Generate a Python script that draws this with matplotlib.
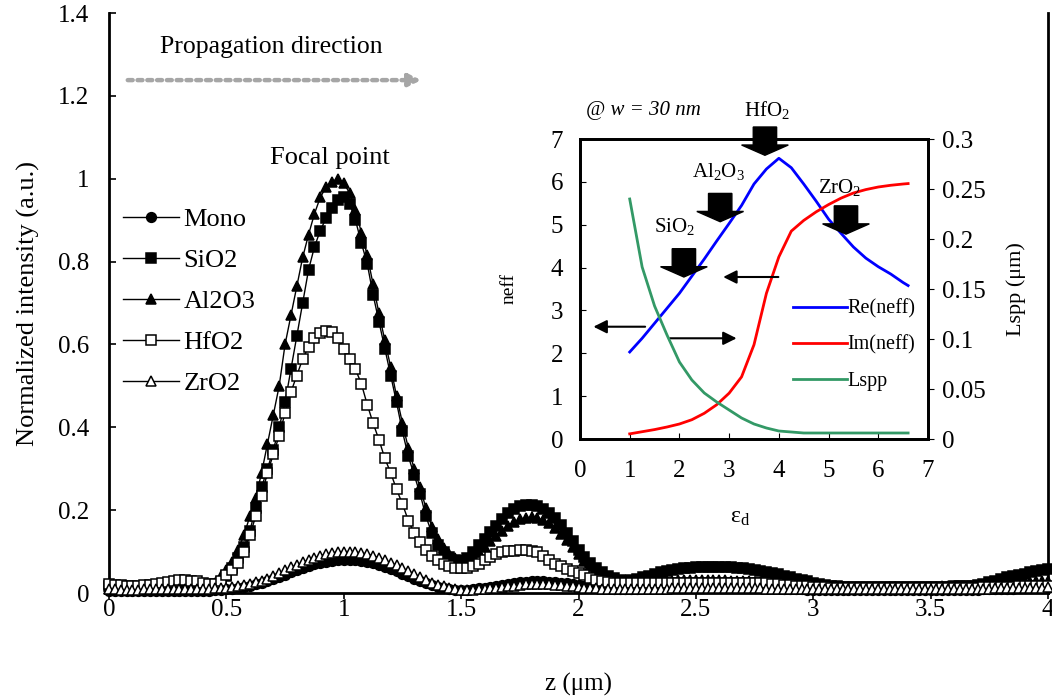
import numpy as np
import matplotlib
matplotlib.use('Agg')
import matplotlib.pyplot as plt

plt.rcParams['font.family'] = ['Liberation Serif', 'DejaVu Serif']
plt.rcParams['mathtext.fontset'] = 'custom'
plt.rcParams['mathtext.rm'] = 'Liberation Serif'
plt.rcParams['mathtext.it'] = 'Liberation Serif:italic'

# ---- main plot data: normalized intensity along z, sampled every 0.025 um ----
z_step = 0.025

mono = [0.006, 0.006, 0.006, 0.005, 0.005, 0.005, 0.005, 0.005, 0.005, 0.005,
        0.005, 0.005, 0.005, 0.005, 0.005, 0.005, 0.006, 0.006, 0.007, 0.008,
        0.009, 0.010, 0.012, 0.015, 0.018, 0.021, 0.025, 0.029, 0.034, 0.039,
        0.044, 0.050, 0.055, 0.060, 0.065, 0.069, 0.073, 0.076, 0.078, 0.079,
        0.080, 0.080, 0.079, 0.077, 0.075, 0.072, 0.068, 0.063, 0.058, 0.053,
        0.047, 0.041, 0.035, 0.029, 0.024, 0.019, 0.015, 0.012, 0.009, 0.008,
        0.007, 0.008, 0.009, 0.011, 0.013, 0.015, 0.018, 0.020, 0.022, 0.024,
        0.026, 0.027, 0.028, 0.028, 0.028, 0.027, 0.026, 0.025, 0.023, 0.021,
        0.019, 0.017, 0.015, 0.013, 0.012, 0.011, 0.010, 0.010, 0.010, 0.010,
        0.010, 0.011, 0.011, 0.012, 0.012, 0.013, 0.013, 0.014, 0.014, 0.014,
        0.015, 0.015, 0.015, 0.015, 0.015, 0.015, 0.014, 0.014, 0.014, 0.013,
        0.013, 0.012, 0.012, 0.011, 0.011, 0.010, 0.010, 0.009, 0.009, 0.008,
        0.008, 0.008, 0.007, 0.007, 0.007, 0.007, 0.007, 0.007, 0.007, 0.007,
        0.007, 0.007, 0.007, 0.007, 0.007, 0.007, 0.007, 0.007, 0.007, 0.007,
        0.007, 0.007, 0.007, 0.007, 0.008, 0.008, 0.008, 0.008, 0.008, 0.009,
        0.009, 0.009, 0.010, 0.010, 0.010, 0.011, 0.011, 0.011, 0.012, 0.012,
        0.012]

sio2 = [0.018, 0.016, 0.014, 0.013, 0.012, 0.012, 0.013, 0.014, 0.014, 0.013,
        0.013, 0.012, 0.012, 0.011, 0.011, 0.012, 0.013, 0.015, 0.018, 0.026,
        0.040, 0.060, 0.085, 0.110, 0.150, 0.205, 0.255, 0.300, 0.345, 0.400,
        0.460, 0.540, 0.620, 0.700, 0.780, 0.835, 0.875, 0.905, 0.930, 0.948,
        0.955, 0.940, 0.900, 0.845, 0.795, 0.720, 0.655, 0.590, 0.525, 0.460,
        0.390, 0.330, 0.285, 0.240, 0.185, 0.145, 0.115, 0.098, 0.088, 0.080,
        0.078, 0.085, 0.098, 0.115, 0.130, 0.148, 0.162, 0.178, 0.192, 0.203,
        0.210, 0.213, 0.213, 0.210, 0.203, 0.193, 0.180, 0.164, 0.145, 0.125,
        0.105, 0.088, 0.073, 0.060, 0.050, 0.042, 0.036, 0.032, 0.030, 0.031,
        0.034, 0.038, 0.042, 0.046, 0.050, 0.053, 0.056, 0.058, 0.060, 0.061,
        0.062, 0.063, 0.063, 0.063, 0.063, 0.062, 0.062, 0.061, 0.060, 0.058,
        0.056, 0.054, 0.051, 0.048, 0.045, 0.042, 0.038, 0.034, 0.031, 0.028,
        0.025, 0.022, 0.020, 0.018, 0.016, 0.015, 0.015, 0.014, 0.014, 0.014,
        0.014, 0.014, 0.014, 0.014, 0.015, 0.015, 0.015, 0.015, 0.015, 0.015,
        0.015, 0.015, 0.015, 0.015, 0.016, 0.016, 0.017, 0.018, 0.019, 0.022,
        0.026, 0.030, 0.034, 0.038, 0.041, 0.044, 0.047, 0.050, 0.053, 0.056,
        0.058]

al2o3 = [0.010, 0.010, 0.011, 0.012, 0.012, 0.013, 0.014, 0.014, 0.013, 0.012,
         0.012, 0.012, 0.012, 0.013, 0.014, 0.016, 0.018, 0.020, 0.025, 0.040,
         0.055, 0.075, 0.105, 0.140, 0.185, 0.230, 0.290, 0.360, 0.430, 0.500,
         0.600, 0.670, 0.740, 0.810, 0.865, 0.915, 0.955, 0.980, 0.993, 1.000,
         0.990, 0.965, 0.925, 0.870, 0.815, 0.745, 0.675, 0.610, 0.545, 0.475,
         0.410, 0.350, 0.300, 0.255, 0.205, 0.160, 0.130, 0.108, 0.093, 0.084,
         0.080, 0.082, 0.090, 0.100, 0.112, 0.125, 0.138, 0.150, 0.162, 0.172,
         0.178, 0.182, 0.183, 0.181, 0.176, 0.168, 0.157, 0.143, 0.127, 0.110,
         0.093, 0.078, 0.064, 0.052, 0.042, 0.035, 0.030, 0.027, 0.025, 0.024,
         0.024, 0.025, 0.026, 0.027, 0.028, 0.029, 0.030, 0.031, 0.031, 0.032,
         0.032, 0.032, 0.032, 0.032, 0.031, 0.031, 0.030, 0.030, 0.029, 0.028,
         0.027, 0.026, 0.025, 0.024, 0.023, 0.022, 0.021, 0.020, 0.019, 0.018,
         0.017, 0.016, 0.016, 0.015, 0.015, 0.014, 0.014, 0.014, 0.014, 0.014,
         0.014, 0.014, 0.014, 0.014, 0.014, 0.015, 0.015, 0.015, 0.015, 0.015,
         0.015, 0.015, 0.016, 0.016, 0.016, 0.017, 0.017, 0.018, 0.018, 0.019,
         0.020, 0.021, 0.022, 0.023, 0.024, 0.025, 0.026, 0.027, 0.028, 0.029,
         0.030]

hfo2 = [0.022, 0.020, 0.019, 0.018, 0.018, 0.018, 0.019, 0.020, 0.021, 0.023,
        0.026, 0.029, 0.031, 0.031, 0.030, 0.028, 0.025, 0.022, 0.022, 0.030,
        0.043, 0.055, 0.072, 0.100, 0.140, 0.185, 0.235, 0.290, 0.335, 0.380,
        0.435, 0.485, 0.525, 0.565, 0.595, 0.615, 0.628, 0.632, 0.630, 0.615,
        0.590, 0.566, 0.540, 0.505, 0.455, 0.410, 0.370, 0.325, 0.290, 0.250,
        0.215, 0.175, 0.145, 0.124, 0.104, 0.090, 0.079, 0.071, 0.065, 0.061,
        0.060, 0.061, 0.064, 0.069, 0.080, 0.088, 0.094, 0.099, 0.101, 0.102,
        0.103, 0.103, 0.102, 0.098, 0.090, 0.080, 0.070, 0.064, 0.058, 0.052,
        0.048, 0.043, 0.037, 0.032, 0.028, 0.026, 0.025, 0.024, 0.024, 0.024,
        0.024, 0.025, 0.025, 0.025, 0.025, 0.025, 0.025, 0.025, 0.025, 0.025,
        0.025, 0.025, 0.025, 0.025, 0.025, 0.025, 0.025, 0.025, 0.024, 0.024,
        0.024, 0.023, 0.023, 0.022, 0.021, 0.020, 0.019, 0.018, 0.017, 0.016,
        0.015, 0.014, 0.014, 0.013, 0.013, 0.012, 0.012, 0.012, 0.012, 0.012,
        0.012, 0.012, 0.012, 0.012, 0.012, 0.012, 0.012, 0.012, 0.012, 0.012,
        0.012, 0.012, 0.012, 0.012, 0.012, 0.013, 0.013, 0.013, 0.013, 0.014,
        0.014, 0.014, 0.015, 0.015, 0.015, 0.016, 0.016, 0.016, 0.017, 0.017,
        0.018]

zro2 = [0.010, 0.009, 0.008, 0.008, 0.008, 0.008, 0.009, 0.009, 0.009, 0.009,
        0.009, 0.009, 0.009, 0.009, 0.009, 0.009, 0.010, 0.010, 0.011, 0.011,
        0.012, 0.014, 0.016, 0.019, 0.022, 0.026, 0.030, 0.035, 0.042, 0.048,
        0.055, 0.062, 0.068, 0.074, 0.080, 0.085, 0.090, 0.094, 0.097, 0.099,
        0.100, 0.100, 0.099, 0.097, 0.094, 0.090, 0.085, 0.079, 0.073, 0.067,
        0.060, 0.053, 0.045, 0.038, 0.031, 0.025, 0.020, 0.016, 0.012, 0.010,
        0.008, 0.008, 0.008, 0.009, 0.010, 0.011, 0.013, 0.015, 0.017, 0.018,
        0.020, 0.021, 0.022, 0.022, 0.022, 0.022, 0.020, 0.019, 0.017, 0.016,
        0.014, 0.013, 0.012, 0.011, 0.010, 0.010, 0.009, 0.009, 0.009, 0.009,
        0.009, 0.009, 0.010, 0.010, 0.010, 0.010, 0.011, 0.011, 0.011, 0.011,
        0.011, 0.011, 0.011, 0.011, 0.011, 0.011, 0.011, 0.011, 0.011, 0.011,
        0.011, 0.011, 0.010, 0.010, 0.010, 0.010, 0.010, 0.009, 0.009, 0.009,
        0.009, 0.009, 0.009, 0.009, 0.009, 0.009, 0.009, 0.009, 0.009, 0.009,
        0.009, 0.009, 0.009, 0.009, 0.009, 0.009, 0.009, 0.009, 0.009, 0.009,
        0.009, 0.009, 0.009, 0.009, 0.009, 0.010, 0.010, 0.010, 0.010, 0.010,
        0.010, 0.011, 0.011, 0.011, 0.012, 0.012, 0.012, 0.013, 0.013, 0.013,
        0.014]

series_labels = ['Mono', 'SiO2', 'Al2O3', 'HfO2', 'ZrO2']

# ---- inset data: effective index and propagation length vs eps_d ----
eps_d = [1.0, 1.25, 1.5, 1.75, 2.0, 2.25, 2.5, 2.75, 3.0, 3.25, 3.5, 3.75,
         4.0, 4.25, 4.5, 4.75, 5.0, 5.25, 5.5, 5.75, 6.0, 6.25, 6.5, 6.6]
re_neff = [2.03, 2.35, 2.70, 3.05, 3.40, 3.80, 4.20, 4.62, 5.03, 5.45, 5.95, 6.30,
           6.55, 6.33, 5.95, 5.55, 5.13, 4.80, 4.48, 4.22, 4.02, 3.85, 3.65, 3.58]
im_neff = [0.12, 0.17, 0.22, 0.28, 0.35, 0.45, 0.60, 0.80, 1.07, 1.45, 2.20, 3.40,
           4.25, 4.85, 5.10, 5.30, 5.47, 5.62, 5.74, 5.82, 5.88, 5.92, 5.95, 5.96]
lspp = [0.240, 0.172, 0.133, 0.104, 0.077, 0.059, 0.046, 0.037, 0.029, 0.021,
        0.015, 0.011, 0.008, 0.007, 0.006, 0.006, 0.006, 0.006, 0.006, 0.006,
        0.006, 0.006, 0.006, 0.006]

oxide_labels = [r'HfO$_\mathregular{2}$', r'Al$_\mathregular{2}$O$_\mathregular{3}$',
                r'SiO$_\mathregular{2}$', r'ZrO$_\mathregular{2}$']
oxide_arrow_x = [3.72, 2.82, 2.09, 5.35]
oxide_arrow_tip = [6.62, 5.07, 3.78, 4.78]
oxide_text_xy = [(3.76, 7.67), (2.78, 6.23), (1.91, 4.95), (5.23, 5.88)]

z = np.arange(len(mono)) * z_step

fig = plt.figure(figsize=(10.52, 6.98), dpi=100)
ax = fig.add_axes([109 / 1052, 1 - 593 / 698, 939 / 1052, 580 / 698])

styles = [
    dict(marker='o', mfc='black', ms=7),
    dict(marker='s', mfc='black', ms=6.5),
    dict(marker='^', mfc='black', ms=7.5),
    dict(marker='s', mfc='white', ms=6.5),
    dict(marker='^', mfc='white', ms=6.5),
]
for i, (vals, lab, st) in enumerate(zip([mono, sio2, al2o3, hfo2, zro2], series_labels, styles)):
    ax.plot(z, vals, color='black', lw=1.0, mec='black', mew=1.1, label=lab,
            zorder=2 + i, clip_on=False, **st)

ax.set_xlim(0, 4)
ax.set_ylim(0, 1.4)
ax.set_xticks(np.arange(0, 4.01, 0.5))
ax.set_xticklabels(['0', '0.5', '1', '1.5', '2', '2.5', '3', '3.5', '4'])
ax.set_yticks(np.arange(0, 1.41, 0.2))
ax.set_yticklabels(['0', '0.2', '0.4', '0.6', '0.8', '1', '1.2', '1.4'])
ax.tick_params(axis='x', direction='out', length=4, width=1.2, pad=0, labelsize=18)
ax.tick_params(axis='y', direction='in', length=5, width=1.2, pad=14, labelsize=18)
ax.spines['top'].set_visible(False)
for s in ['left', 'bottom', 'right']:
    ax.spines[s].set_linewidth(2)
ax.set_xlabel('z (μm)', fontsize=18)
ax.xaxis.set_label_coords(0.5, -0.138)
ax.set_ylabel('Normalized intensity (a.u.)', fontsize=19)
ax.yaxis.set_label_coords(-0.073, 0.5)

ax.legend(loc='upper left', bbox_to_anchor=(0.015, 0.664), frameon=False,
          fontsize=19, handlelength=2.1, handletextpad=0.19, labelspacing=0.66,
          borderpad=0, borderaxespad=0)

ax.text(0.94, 1.05, 'Focal point', fontsize=19, ha='center', va='center')
ax.text(0.217, 1.318, 'Propagation direction', fontsize=18.5, ha='left', va='center')
ax.annotate('', xy=(1.33, 1.238), xytext=(0.08, 1.238),
            arrowprops=dict(arrowstyle='-|>', linestyle=(0, (1.1, 1.1)), lw=3.2,
                            color='#a6a6a6', mutation_scale=18, shrinkA=0, shrinkB=0))

# ---- inset ----
ax_in = fig.add_axes([580 / 1052, 1 - 439 / 698, 348 / 1052, 300 / 698])
l1, = ax_in.plot(eps_d, re_neff, color='#0000ff', lw=2, label='Re(neff)')
l2, = ax_in.plot(eps_d, im_neff, color='#ff0000', lw=2, label='Im(neff)')
ax_r = ax_in.twinx()
l3, = ax_r.plot(eps_d, lspp, color='#339966', lw=2, label='Lspp')

ax_in.set_xlim(0, 7)
ax_in.set_ylim(0, 7)
ax_r.set_ylim(0, 0.3)
ax_in.set_xticks(range(0, 8))
ax_in.set_yticks(range(0, 8))
ax_r.set_yticks([0, 0.05, 0.1, 0.15, 0.2, 0.25, 0.3])
ax_r.set_yticklabels(['0', '0.05', '0.1', '0.15', '0.2', '0.25', '0.3'])
ax_in.tick_params(axis='x', direction='in', length=4, pad=15, labelsize=18)
ax_in.tick_params(axis='y', direction='in', length=4, pad=12, labelsize=18)
ax_r.tick_params(axis='y', direction='out', length=4, pad=6, labelsize=18)
for a in (ax_in, ax_r):
    for s in a.spines.values():
        s.set_linewidth(2)

ax_in.set_xlabel(r'ε$_\mathregular{d}$', fontsize=17)
ax_in.xaxis.set_label_coords(0.46, -0.225)
ax_in.set_ylabel('neff', fontsize=14)
ax_in.yaxis.set_label_coords(-0.178, 0.5)
ax_r.set_ylabel('Lspp (μm)', fontsize=16)
ax_r.yaxis.set_label_coords(1.225, 0.5)

ax_in.legend([l1, l2, l3], ['Re(neff)', 'Im(neff)', 'Lspp'], loc='upper left',
             bbox_to_anchor=(0.612, 0.466), frameon=False, fontsize=14.5,
             handlelength=2.7, handletextpad=0.0, labelspacing=0.84,
             borderpad=0, borderaxespad=0)

# thin arrows pointing to the relevant axis
for (x0, x1, yy) in [(1.31, 0.27, 2.62), (1.81, 3.15, 2.35), (3.99, 2.88, 3.78)]:
    ax_in.annotate('', xy=(x1, yy), xytext=(x0, yy),
                   arrowprops=dict(arrowstyle='-|>', color='black', lw=1.5,
                                   mutation_scale=20, shrinkA=0, shrinkB=0))

# block arrows marking each oxide
for xa, tip in zip(oxide_arrow_x, oxide_arrow_tip):
    ax_in.arrow(xa, tip + 0.66, 0, -0.66, width=0.47, head_width=0.94,
                head_length=0.24, length_includes_head=True, color='black',
                clip_on=False, zorder=5)
for lab, (tx, ty) in zip(oxide_labels, oxide_text_xy):
    ax_in.text(tx, ty, lab, fontsize=15, ha='center', va='center', zorder=6)
ax_in.text(0.12, 7.67, '@ w = 30 nm', fontsize=15, fontstyle='italic',
           ha='left', va='center')

fig.savefig('out.png', dpi=100)
